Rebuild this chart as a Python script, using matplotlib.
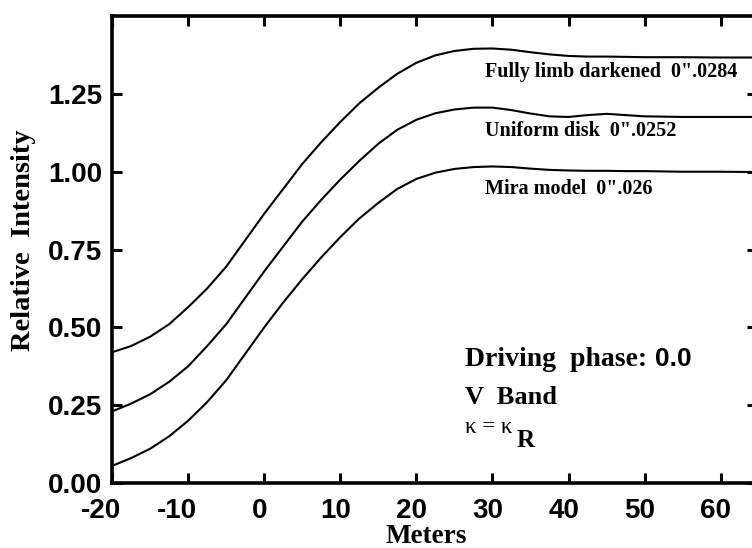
import matplotlib
matplotlib.use("Agg")
import matplotlib.pyplot as plt
from matplotlib.transforms import ScaledTranslation

# ── Data ───────────────────────────────────────────────────────────────────────
meters = [-20, -17.5, -15, -12.5, -10, -7.5, -5, -2.5, 0, 2.5, 5, 7.5, 10, 12.5,
          15, 17.5, 20, 22.5, 25, 27.5, 30, 32.5, 35, 37.5, 40, 42.5, 45, 47.5,
          50, 55, 60, 65]
mira = [0.055, 0.08, 0.11, 0.15, 0.20, 0.26, 0.33, 0.415, 0.50, 0.58, 0.655,
        0.725, 0.79, 0.85, 0.90, 0.945, 0.977, 0.997, 1.009, 1.015, 1.017,
        1.015, 1.010, 1.006, 1.004, 1.003, 1.003, 1.002, 1.002, 1.000, 1.000,
        0.999]
uniform = [0.23, 0.255, 0.285, 0.325, 0.375, 0.44, 0.51, 0.595, 0.68, 0.76,
           0.84, 0.91, 0.975, 1.035, 1.09, 1.135, 1.167, 1.188, 1.200, 1.206,
           1.206, 1.198, 1.187, 1.178, 1.176, 1.182, 1.186, 1.182, 1.178,
           1.176, 1.176, 1.176]
limb = [0.42, 0.44, 0.47, 0.51, 0.565, 0.625, 0.695, 0.78, 0.865, 0.945,
        1.025, 1.095, 1.16, 1.22, 1.27, 1.315, 1.35, 1.374, 1.388, 1.395,
        1.396, 1.392, 1.384, 1.377, 1.372, 1.370, 1.370, 1.369, 1.368, 1.368,
        1.367, 1.367]

curve_labels = ["Fully limb darkened  0\".0284", "Uniform disk  0\".0252",
                "Mira model  0\".026"]
xticks = [-20, -10, 0, 10, 20, 30, 40, 50, 60]
yticks = [0.00, 0.25, 0.50, 0.75, 1.00, 1.25]

SERIF = "Liberation Serif"
SANS = "Liberation Sans"

# ── Figure ─────────────────────────────────────────────────────────────────────
fig = plt.figure(figsize=(7.52, 5.48), dpi=100, facecolor="white")
ax = fig.add_axes([0.149, 0.1186, 0.857, 0.852])

for ys in (limb, uniform, mira):
    ax.plot(meters, ys, color="black", lw=1.5, solid_capstyle="round")

ax.set_xlim(-20, 64.7)
ax.set_ylim(0, 1.5)
ax.set_xticks(xticks)
ax.set_yticks(yticks)
ax.set_xticklabels([str(v) for v in xticks], fontfamily=SANS,
                   fontweight="bold", fontsize=20)
ax.set_yticklabels([f"{v:.2f}" for v in yticks], fontfamily=SANS,
                   fontweight="bold", fontsize=20)
ax.tick_params(axis="both", direction="in", length=7.5, width=2.2,
               top=True, right=True)
ax.tick_params(axis="x", pad=10.5)
ax.tick_params(axis="y", pad=7)
for sp in ax.spines.values():
    sp.set_linewidth(2.6)

# the original's x labels sit a little left of their ticks
for v, lab in zip(xticks, ax.get_xticklabels()):
    dx = -0.11 if v < 0 else -0.05
    lab.set_transform(lab.get_transform() +
                      ScaledTranslation(dx, 0, fig.dpi_scale_trans))

ax.set_xlabel("Meters", fontfamily=SERIF, fontweight="bold", fontsize=19.5)
ax.xaxis.set_label_coords(0.488, -0.088)
ax.set_ylabel("Relative  Intensity", fontfamily=SERIF, fontweight="bold",
              fontsize=20.5)
ax.yaxis.set_label_coords(-0.118, 0.52)

# curve labels
for lab, yb in zip(curve_labels, [1.304, 1.115, 0.929]):
    ax.text(29.0, yb, lab, fontfamily=SERIF, fontweight="bold", fontsize=14.5,
            ha="left", va="baseline")

# model notes
ax.text(26.4, 0.375, "Driving  phase:", fontfamily=SERIF, fontweight="bold",
        fontsize=20, ha="left", va="baseline")
ax.text(51.3, 0.375, "0.0", fontfamily=SANS, fontweight="bold",
        fontsize=19, ha="left", va="baseline")
ax.text(26.4, 0.253, "V  Band", fontfamily=SERIF, fontweight="bold",
        fontsize=19, ha="left", va="baseline")
ax.text(26.4, 0.16, "κ = κ", fontfamily=SERIF, fontsize=16.5,
        ha="left", va="baseline")
ax.text(33.2, 0.115, "R", fontfamily=SERIF, fontweight="bold", fontsize=18,
        ha="left", va="baseline")

fig.savefig("out.png", dpi=100)
